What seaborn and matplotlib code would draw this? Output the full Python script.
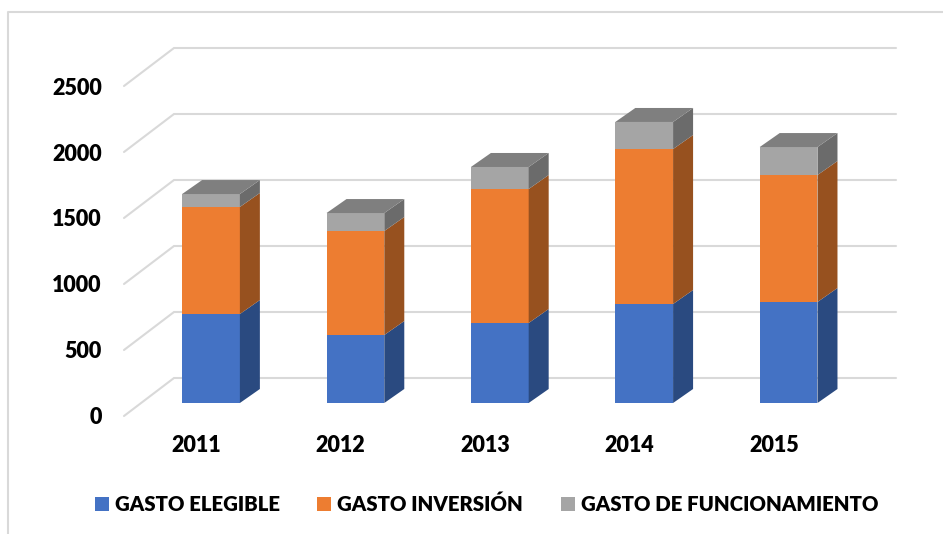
import matplotlib
matplotlib.use("Agg")
import matplotlib.pyplot as plt
import pandas as pd
import seaborn as sns
from matplotlib.lines import Line2D
from matplotlib.patches import Polygon

years = ["2011", "2012", "2013", "2014", "2015"]
elegible = [674, 515, 606, 750, 765]
inversion = [811, 788, 1015, 1174, 962]
funcionamiento = [98, 136, 167, 205, 212]
y_ticks = [0, 500, 1000, 1500, 2000, 2500]

W, H = 943, 534
sns.set_theme(style="white")
plt.rcParams["font.family"] = "Lato"

df = pd.DataFrame({"year": years, "elegible": elegible, "inversion": inversion, "func": funcionamiento})
df["base2"] = df["elegible"]
df["base3"] = df["elegible"] + df["inversion"]

fig = plt.figure(figsize=(W / 100, H / 100), dpi=100)
ax = fig.add_axes([124 / W, (H - 416) / H, 722 / W, 330 / H])

# pixel to data scale of the axes
px_x = 5 / 722
px_y = 2500 / 330

# back wall grid, floor-to-wall diagonals
wall_dx = 50 * px_x
wall_dy = 38 * px_y
grid = "#d9d9d9"
for t in y_ticks:
    ax.plot([-0.5, -0.5 + wall_dx, 4.5 + wall_dx], [t, t + wall_dy, t + wall_dy],
            color=grid, lw=1.5, clip_on=False, zorder=1, solid_joinstyle="miter")

# stacked bars
series = [("elegible", None, "GASTO ELEGIBLE", "#4472c4", "#2a4a80", None),
          ("inversion", "base2", "GASTO INVERSIÓN", "#ed7d31", "#97511f", None),
          ("func", "base3", "GASTO DE FUNCIONAMIENTO", "#a5a5a5", "#6b6b6b", "#7f7f7f")]

shift_x = 14.8 * px_x
shift_y = 13 * px_y
side_dx = 20 * px_x
side_dy = 14 * px_y

for col, base, label, color, side, top in series:
    bottom = df[base] if base else 0
    sns.barplot(data=df, x="year", y=col, bottom=bottom, color=color, saturation=1,
                width=0.4, label=label, ax=ax, linewidth=0, zorder=3)
    bars = ax.containers[-1]
    for bar in bars:
        bar.set_x(bar.get_x() + shift_x)
        bar.set_y(bar.get_y() + shift_y)
        bar.set_clip_on(False)
        x1 = bar.get_x() + bar.get_width()
        y0 = bar.get_y()
        y1 = y0 + bar.get_height()
        ax.add_patch(Polygon([(x1, y0), (x1 + side_dx, y0 + side_dy), (x1 + side_dx, y1 + side_dy), (x1, y1)],
                             facecolor=side, edgecolor="none", clip_on=False, zorder=3))
        if top:
            x0 = bar.get_x()
            ax.add_patch(Polygon([(x0, y1), (x1, y1), (x1 + side_dx, y1 + side_dy), (x0 + side_dx, y1 + side_dy)],
                                 facecolor=top, edgecolor="none", clip_on=False, zorder=3))

ax.set_xlim(-0.5, 4.5)
ax.set_ylim(0, 2500)
ax.set_yticks(y_ticks)
ax.set_xlabel("")
ax.set_ylabel("")
sns.despine(ax=ax, left=True, bottom=True)
ax.patch.set_alpha(0)
ax.tick_params(axis="y", length=0, pad=16, labelsize=15.5, labelcolor="black")
ax.tick_params(axis="x", length=0, pad=14, labelsize=15.5, labelcolor="black")
for lab in ax.get_xticklabels() + ax.get_yticklabels():
    lab.set_fontweight(800)

if ax.get_legend():
    ax.get_legend().remove()
handles, labels = ax.get_legend_handles_labels()
fig.legend(handles, labels, loc="center", bbox_to_anchor=(486.5 / W, (H - 504) / H), ncol=3, frameon=False,
           prop={"family": "Lato", "size": 14.7, "weight": 800}, labelcolor="black",
           handlelength=0.68, handleheight=0.68, handletextpad=0.3, columnspacing=1.84)

# outer frame, only left and top edges show
fig.add_artist(Line2D([8 / W, 8 / W, 1], [0, (H - 12) / H, (H - 12) / H], color=grid, lw=1.5))

fig.savefig("out.png", dpi=100, facecolor="white")
